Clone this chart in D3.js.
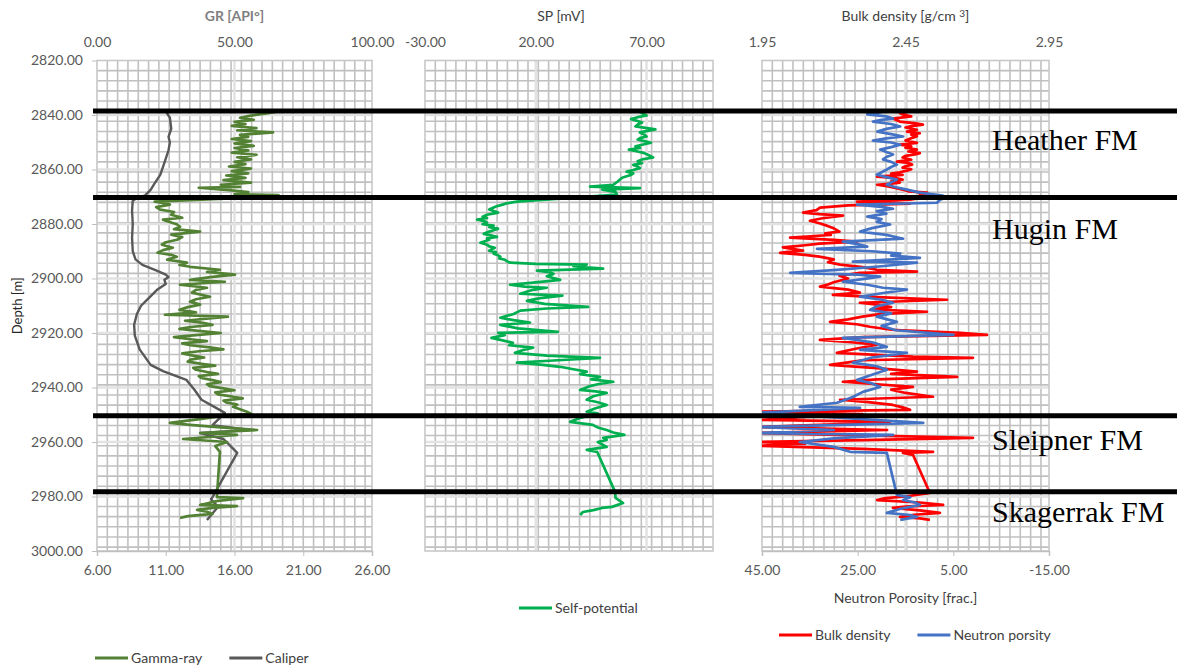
<!DOCTYPE html>
<html>
<head>
<meta charset="utf-8">
<script src="https://cdn.jsdelivr.net/npm/d3@7"></script>
<style>
  body { margin: 0; background: #fff; }
  svg { display: block; }
  text { font-family: Lato, "Open Sans", "DejaVu Sans", sans-serif; }
</style>
</head>
<body>
<svg id="chart" width="1177" height="670"></svg>
<script>
// ---- axis definitions ----
const depthDomain = [2820, 3000];
const depthTicks = [2820, 2840, 2860, 2880, 2900, 2920, 2940, 2960, 2980, 3000];
const grTicks = [0, 50, 100];
const caliperTicks = [6, 11, 16, 21, 26];
const spTicks = [-30, 20, 70];
const rhobTicks = [1.95, 2.45, 2.95];
const nphiTicks = [45, 25, 5, -15];

// formation tops [depth m] and names
const formationTops = [2838.5, 2870.3, 2950.4, 2978.3];
const formationNames = ["Heather FM", "Hugin FM", "Sleipner FM", "Skagerrak FM"];
const formationLabelDepths = [2853.0, 2885.4, 2963.0, 2989.4];

// ---- log curves: [depth m, value] ----
const gammaRay = [
  [2838.7,66],[2839.5,61],[2840.2,56],[2841.0,52],[2841.8,57],[2842.5,50],[2843.3,54],[2844.0,49],
  [2844.8,58],[2845.6,51],[2846.4,64],[2847.3,52],[2848.0,55],[2848.8,49],[2849.6,56],[2850.4,50],
  [2851.3,57],[2852.1,50],[2853.0,55],[2853.8,49],[2854.6,58],[2855.5,51],[2856.3,56],[2857.2,50],
  [2858.0,54],[2858.9,48],[2859.7,56],[2860.6,49],[2861.4,55],[2862.2,47],[2863.1,54],[2863.9,46],
  [2864.8,56],[2865.6,45],[2866.4,52],[2866.7,37],[2867.6,48],[2868.3,55],[2869.0,50],[2869.4,66],
  [2870.3,55],[2871.8,21],[2872.4,25],[2872.9,26.5],[2873.8,21.5],[2874.7,23],[2875.6,28],[2876.6,27],
  [2877.7,31],[2878.4,24],[2879.1,25.8],[2880.1,29],[2881.0,30.2],[2881.9,28],[2882.8,37.5],[2883.9,27],
  [2884.8,31],[2885.8,29.1],[2886.7,25],[2887.6,23.6],[2888.7,27.6],[2889.6,24],[2890.5,22],[2891.3,27],
  [2892.0,29],[2893.1,25.5],[2894.2,32.7],[2895.0,30],[2895.7,33.8],[2896.8,44.7],[2897.6,40],[2898.6,50.2],
  [2899.4,42],[2900.5,33.8],[2901.2,46.5],[2902.3,30.2],[2903.4,40],[2904.2,36],[2905.2,34.5],[2906.7,41.1],
  [2907.6,36],[2908.5,33.8],[2909.6,37.5],[2910.5,33],[2911.5,30],[2912.4,36],[2913.3,24.7],[2914.0,47.6],
  [2915.5,32],[2916.2,38],[2917.0,42],[2917.8,34],[2918.5,30],[2919.2,37],[2920.0,45],[2920.8,36],
  [2921.5,28],[2922.3,34],[2923.0,40],[2923.8,31],[2924.5,34],[2925.3,41],[2926.0,46],[2926.7,37],
  [2927.5,31],[2928.3,35],[2929.0,39],[2929.8,34],[2930.5,33],[2931.3,38],[2932.0,43],[2932.8,35],
  [2933.5,36],[2934.3,40],[2935.0,44],[2935.8,37],[2936.5,38],[2937.3,42],[2938.0,45],[2938.8,40],
  [2939.5,41],[2940.3,46],[2941.0,50],[2941.8,43],[2942.5,44],[2943.3,49],[2944.0,53],[2944.8,46],
  [2945.5,47],[2946.3,51],[2947.1,49.5],[2948.0,52],[2948.9,54.5],[2949.6,56],[2950.5,45],[2951.5,38],
  [2953.0,26.5],[2953.7,33.8],[2954.6,45],[2955.6,58.2],[2956.7,37.5],[2957.4,50.9],[2958.9,31.3],[2960.0,47.3],
  [2961.5,43],[2963.6,44.7],[2980.2,43.6],[2980.6,53.1],[2981.6,44],[2983.1,37.5],[2983.5,50.9],[2984.2,42],
  [2984.9,36.4],[2985.6,40],[2986.4,42],[2987.2,33],[2987.9,30.2]
];

const caliper = [
  [2838.7,11.0],[2841,11.3],[2845,11.4],[2848,11.2],[2850,11.3],[2853,11.2],[2856,11.0],[2859,10.8],
  [2862,10.6],[2865,10.2],[2867.5,9.9],[2869.5,9.5],[2870.5,8.9],[2871.5,8.6],[2875,8.55],[2880,8.6],
  [2885,8.55],[2890,8.6],[2893,8.8],[2895,9.3],[2897,10.3],[2898.6,11.0],[2899.5,11.2],[2900.5,10.9],
  [2902,11.0],[2904,10.4],[2907,9.8],[2910,9.2],[2913,8.9],[2917,8.7],[2921,8.75],[2926,9.1],
  [2931.7,9.9],[2934,10.8],[2937.2,12.5],[2940.9,13.1],[2944.5,13.6],[2947,14.5],[2949.3,15.3],[2953.8,14.4],
  [2955.6,17.1],[2956.7,13.5],[2958.9,15.2],[2964,16.2],[2980.2,14.4],[2981,14.3],[2983.8,14.8],[2988.6,14.0]
];

const selfPotential = [
  [2838.7,67],[2839.4,68],[2840.2,70],[2840.8,66],[2841.5,63],[2842.2,66],[2842.8,68],[2843.5,66],
  [2844.2,65],[2845.3,74],[2846.4,67],[2847.2,69],[2847.9,70],[2848.5,67],[2849.0,66],[2849.6,69],
  [2850.2,72],[2850.9,68],[2851.5,65],[2852.1,67],[2852.7,62],[2853.4,66],[2854.0,69],[2854.8,71],
  [2855.6,73],[2856.3,68],[2857.0,66],[2857.7,68],[2858.3,64],[2858.9,66],[2859.5,67],[2860.2,64],
  [2860.8,61],[2861.4,64],[2862.0,63],[2862.5,61],[2863.0,59],[2863.7,58],[2864.4,57],[2865.0,56],
  [2865.6,55],[2866.3,44.5],[2866.8,67],[2867.4,50],[2868.2,56],[2869.2,56.7],[2871.8,11.5],[2872.4,7],
  [2872.9,5],[2873.6,2],[2874.7,-1],[2875.2,1],[2875.8,3],[2876.6,-2],[2877.3,-4],[2877.8,-2],
  [2878.4,-6.5],[2879.0,-3],[2879.5,-2],[2880.1,-4],[2880.6,1],[2881.2,-1],[2881.7,3],[2882.3,1],
  [2882.8,-1],[2883.6,-3.5],[2884.2,0],[2884.7,2.5],[2885.3,-2],[2885.8,-1],[2886.3,-3],[2886.9,-5],
  [2887.6,-2],[2888.2,-1],[2888.7,1.5],[2889.3,0],[2889.8,-1],[2890.3,2],[2890.9,1],[2891.5,3],
  [2892.0,4],[2892.6,3.5],[2893.1,6],[2893.7,7],[2894.2,8.4],[2894.6,20],[2894.9,43],[2895.5,37],
  [2896.4,50.4],[2897.1,20.6],[2897.7,26],[2898.3,28],[2899.2,25],[2900.5,31],[2901.4,20],[2902.3,8.4],
  [2903.0,15],[2903.4,25],[2904.3,18],[2905.6,13],[2906.3,32],[2907.2,22],[2908.2,16],[2909.3,24],
  [2910.4,43.6],[2911.0,25],[2911.8,13],[2913.0,10],[2914.4,4],[2915.3,10],[2916.2,17.4],[2917.0,4],
  [2918.3,12],[2919.6,30],[2919.9,3],[2920.8,6],[2921.8,0],[2922.7,5],[2923.6,9.7],[2924.5,8],
  [2925.4,18.8],[2926.3,14],[2927.3,10.6],[2928.3,25],[2929.1,49],[2930.0,30],[2930.9,11.5],[2931.6,22],
  [2932.4,31],[2933.3,37],[2934.2,43],[2935.1,40],[2936.1,49],[2937.0,45],[2937.9,55],[2938.8,48],
  [2939.6,44],[2940.9,40],[2941.4,47],[2942.0,52],[2943.2,46],[2944.5,43],[2945.4,48],[2946.4,52],
  [2947.6,47],[2948.9,43],[2949.5,48],[2950.0,46],[2951.2,40],[2952.6,35.5],[2953.7,45.8],[2954.7,48],
  [2955.6,52],[2956.5,55],[2957.4,60],[2958.5,50.4],[2959.2,52],[2960.0,48],[2961.8,52],[2962.9,43],
  [2963.6,47.7],[2978.3,55.8],[2980.5,56],[2982.4,59.4],[2983.8,54.4],[2984.2,49.9],[2985.0,46],[2985.7,41.3],
  [2986.8,40]
];

const bulkDensity = [
  [2838.7,2.466],[2839.3,2.43],[2839.8,2.44],[2840.5,2.47],[2841.3,2.406],[2842.4,2.43],[2843.0,2.48],[2843.5,2.511],
  [2844.1,2.47],[2844.6,2.45],[2845.4,2.49],[2846.1,2.455],[2846.7,2.50],[2847.2,2.47],[2847.8,2.49],[2848.3,2.476],
  [2849.4,2.45],[2850.2,2.49],[2850.9,2.431],[2851.5,2.47],[2852.0,2.45],[2852.7,2.49],[2853.4,2.46],[2854.0,2.50],
  [2854.5,2.483],[2855.0,2.45],[2855.6,2.44],[2856.4,2.47],[2857.1,2.42],[2857.6,2.46],[2858.2,2.473],[2858.8,2.45],
  [2859.3,2.44],[2859.9,2.47],[2860.4,2.455],[2861.0,2.43],[2861.5,2.40],[2862.0,2.44],[2862.6,2.351],[2863.2,2.42],
  [2863.7,2.44],[2864.3,2.40],[2864.8,2.43],[2865.2,2.40],[2865.6,2.351],[2866.2,2.39],[2866.7,2.41],[2867.4,2.441],
  [2868.0,2.46],[2868.5,2.525],[2869.0,2.50],[2869.6,2.546],[2870.3,2.51],[2871.1,2.466],[2871.8,2.281],[2872.5,2.466],
  [2873.2,2.25],[2874.0,2.152],[2874.9,2.14],[2875.8,2.093],[2876.4,2.15],[2876.9,2.232],[2877.9,2.16],[2878.8,2.117],
  [2879.7,2.15],[2880.6,2.176],[2881.6,2.20],[2882.8,2.22],[2883.4,2.17],[2884.0,2.19],[2884.5,2.12],[2885.0,2.048],
  [2885.8,2.20],[2886.5,2.281],[2887.2,2.15],[2887.8,2.10],[2888.2,2.06],[2888.6,2.023],[2889.2,2.06],[2889.8,2.093],
  [2890.2,2.04],[2890.6,2.013],[2891.3,2.10],[2892.0,2.15],[2893.0,2.20],[2894.0,2.18],[2894.9,2.222],[2895.8,2.30],
  [2896.8,2.35],[2897.5,2.49],[2897.9,2.291],[2899.0,2.22],[2900.0,2.25],[2901.4,2.20],[2902.2,2.18],[2903.0,2.152],
  [2904.1,2.25],[2905.2,2.291],[2906.0,2.197],[2906.8,2.35],[2907.8,2.595],[2908.9,2.291],[2909.6,2.35],[2910.5,2.40],
  [2911.3,2.33],[2912.2,2.525],[2913.1,2.36],[2914.0,2.30],[2915.0,2.25],[2915.9,2.187],[2916.8,2.28],[2917.7,2.326],
  [2918.8,2.40],[2919.9,2.64],[2920.7,2.734],[2921.5,2.30],[2922.5,2.152],[2923.4,2.26],[2924.3,2.351],[2925.7,2.28],
  [2927.3,2.211],[2928.0,2.35],[2928.7,2.476],[2929.1,2.685],[2930.0,2.30],[2930.8,2.25],[2931.7,2.187],[2932.9,2.35],
  [2934.2,2.49],[2935.0,2.40],[2936.1,2.63],[2937.0,2.35],[2937.9,2.232],[2938.8,2.35],[2939.8,2.476],[2940.8,2.40],
  [2942.0,2.45],[2943.4,2.546],[2944.5,2.222],[2945.4,2.32],[2946.4,2.406],[2947.3,2.44],[2948.2,2.466],[2948.9,1.94],
  [2949.8,2.30],[2950.8,2.10],[2951.9,1.94],[2952.6,2.396],[2953.5,2.20],[2954.5,1.94],[2955.6,2.386],[2956.7,1.94],
  [2957.6,2.30],[2958.5,2.685],[2959.3,2.30],[2960.0,1.94],[2960.7,2.10],[2961.4,1.94],[2962.5,2.30],[2963.6,2.546],
  [2964.0,2.441],[2964.7,2.476],[2978.7,2.535],[2980.0,2.45],[2980.6,2.38],[2981.3,2.351],[2982.2,2.50],[2983.1,2.581],
  [2983.6,2.46],[2984.2,2.406],[2985.1,2.50],[2986.0,2.57],[2986.7,2.48],[2987.5,2.431],[2988.0,2.50],[2988.6,2.535]
];

const neutronPorosity = [
  [2838.7,19.7],[2839.3,21],[2839.8,23],[2840.5,19],[2841.3,17.6],[2841.8,20],[2842.4,21.8],[2843.3,18],
  [2844.2,16.1],[2845.1,19],[2846.1,20.9],[2847.0,18],[2847.9,15.5],[2848.6,19],[2849.4,21.8],[2850.1,18],
  [2850.9,16.1],[2851.8,18],[2852.7,20.3],[2853.6,19],[2854.5,17.6],[2855.4,19],[2856.3,19.7],[2857.2,18],
  [2858.2,16.8],[2859.1,18],[2860.0,18.9],[2861.0,20],[2861.9,21],[2862.8,19],[2863.7,16.8],[2864.7,18],
  [2865.6,18.9],[2866.5,17],[2867.4,14.7],[2868.5,12.0],[2869.6,7.2],[2870.3,6.3],[2871.1,7.8],[2872.2,8.4],
  [2872.9,25.1],[2873.7,20],[2874.4,17.6],[2875.3,21],[2876.2,19],[2877.3,23.0],[2878.2,20],[2879.2,21],
  [2880.2,18.2],[2881.5,22],[2882.8,24.5],[2884.0,19],[2885.4,15.5],[2886.5,28.1],[2887.4,25],[2888.3,23.0],
  [2889.1,33.5],[2890.0,22],[2890.9,16.1],[2891.6,18],[2892.4,12.0],[2893.8,26.0],[2894.2,12.6],[2895.5,20],
  [2896.8,29.3],[2897.9,39.1],[2898.6,25],[2899.3,20.3],[2900.2,24],[2901.2,28.1],[2902.3,23],[2903.4,19.7],
  [2904.1,14.7],[2905.4,20],[2906.7,24.5],[2907.8,20],[2908.9,17.6],[2910.2,21],[2911.5,22.4],[2912.8,18],
  [2914.0,21],[2915.9,16.8],[2917.4,20],[2919.0,17],[2920.7,5.0],[2921.8,28.1],[2923.4,22],[2925.1,18.9],
  [2926.2,24.5],[2927.3,14.7],[2929.0,22],[2930.9,26.0],[2932.2,21],[2933.5,18.9],[2935.3,22],[2937.2,25.1],
  [2938.5,22],[2939.8,20.3],[2941.6,23.9],[2943.5,26],[2945.6,29.3],[2947.1,37.1],[2947.5,24.5],[2949.3,45.5],
  [2953.0,11.3],[2954.5,46],[2955.6,30],[2956.7,46],[2957.4,17.6],[2958.7,30],[2960.0,37.1],[2961.8,30],
  [2963.6,26.6],[2964.0,18.9],[2979.4,16.8],[2980.3,14],[2981.3,15.5],[2982.2,13],[2983.1,12.0],[2984.5,16],
  [2986.0,18.9],[2986.8,14],[2987.5,12.6],[2988.6,16.1]
];

// ---- layout ----
const svg = d3.select("#chart");
const plotTop = 60.5, plotBottom = 551;
const y = d3.scaleLinear().domain(depthDomain).range([plotTop, plotBottom]);

const panels = {
  gr:  { x0: 97,  x1: 372 },
  sp:  { x0: 425, x1: 713 },
  den: { x0: 762, x1: 1049 }
};

const xGR  = d3.scaleLinear().domain([0, 100]).range([panels.gr.x0, panels.gr.x1]);
const xCal = d3.scaleLinear().domain([6, 26]).range([panels.gr.x0, panels.gr.x1]);
const xSP  = d3.scaleLinear().domain([-30, 100]).range([panels.sp.x0, panels.sp.x1]);
const xRho = d3.scaleLinear().domain([1.95, 2.95]).range([panels.den.x0, panels.den.x1]);
const xPhi = d3.scaleLinear().domain([45, -15]).range([panels.den.x0, panels.den.x1]);

const tickColor = "#595959";
const gridMinor = "#c0c0c0";
const gridMajor = "#e2e2e2";

// grid lines for one track
function drawGrid(xScale, minorStep, majors, p) {
  const g = svg.append("g");
  const [d0, d1] = xScale.domain();
  const xs = d3.range(d0, d1 - 1e-6, minorStep).slice(1);
  const ys = d3.range(depthDomain[0], depthDomain[1] - 1e-6, 3.72).slice(1);
  g.selectAll(".vmin").data(xs).join("line")
    .attr("x1", d => xScale(d)).attr("x2", d => xScale(d))
    .attr("y1", plotTop).attr("y2", plotBottom)
    .attr("stroke", gridMinor).attr("stroke-width", 1.6);
  g.selectAll(".hmin").data(ys).join("line")
    .attr("x1", p.x0).attr("x2", p.x1)
    .attr("y1", d => y(d)).attr("y2", d => y(d))
    .attr("stroke", gridMinor).attr("stroke-width", 1.6);
  g.selectAll(".vmaj").data(majors).join("line")
    .attr("x1", d => xScale(d)).attr("x2", d => xScale(d))
    .attr("y1", plotTop).attr("y2", plotBottom)
    .attr("stroke", gridMajor).attr("stroke-width", 2.5);
  g.selectAll(".hmaj").data(depthTicks.slice(1, -1)).join("line")
    .attr("x1", p.x0).attr("x2", p.x1)
    .attr("y1", d => y(d)).attr("y2", d => y(d))
    .attr("stroke", gridMajor).attr("stroke-width", 2.5);
  g.append("rect").attr("x", p.x0).attr("y", plotTop)
    .attr("width", p.x1 - p.x0).attr("height", plotBottom - plotTop)
    .attr("fill", "none").attr("stroke", "#c8c8c8").attr("stroke-width", 1.6);
}

drawGrid(xGR, 3.75, [50], panels.gr);
drawGrid(xSP, 4.65, [20, 70], panels.sp);
drawGrid(xRho, 0.036, [2.45], panels.den);

// clip paths per track
const defs = svg.append("defs");
Object.entries(panels).forEach(([k, p]) => {
  defs.append("clipPath").attr("id", "clip-" + k)
    .append("rect").attr("x", p.x0).attr("y", plotTop).attr("width", p.x1 - p.x0).attr("height", plotBottom - plotTop);
});

// axes styling helper
function styleAxis(g, fontSize) {
  g.selectAll("text").attr("fill", tickColor).style("font-size", fontSize + "px");
  g.selectAll("line").attr("stroke", "#bfbfbf");
  g.select(".domain").attr("stroke", "#bfbfbf");
}
// two decimals, plain hyphen for negatives
const fmt2 = v => d3.format(".2f")(v).replace("\u2212", "-");

// depth axis
const yAxis = svg.append("g").attr("transform", `translate(${panels.gr.x0},0)`)
  .call(d3.axisLeft(y).tickValues(depthTicks).tickFormat(fmt2).tickSize(5).tickPadding(9));
styleAxis(yAxis, 14);
yAxis.select(".domain").remove();

// top axes (labels only)
function topAxis(scale, ticks) {
  const g = svg.append("g").attr("transform", `translate(0,${plotTop - 14})`)
    .call(d3.axisTop(scale).tickValues(ticks).tickFormat(fmt2).tickSize(0).tickPadding(0));
  g.select(".domain").remove();
  styleAxis(g, 14);
  return g;
}
topAxis(xGR, grTicks);
topAxis(xSP, spTicks);
topAxis(xRho, rhobTicks);

// bottom axes
function bottomAxis(scale, ticks) {
  const g = svg.append("g").attr("transform", `translate(0,${plotBottom})`)
    .call(d3.axisBottom(scale).tickValues(ticks).tickFormat(fmt2).tickSize(5).tickPadding(9));
  styleAxis(g, 14);
  g.select(".domain").attr("stroke-width", 1.5);
  return g;
}
bottomAxis(xCal, caliperTicks);
bottomAxis(xPhi, nphiTicks);

// titles
svg.append("text").attr("x", xGR(50)).attr("y", 21).attr("text-anchor", "middle")
  .attr("fill", "#7f7f7f").style("font-size", "14px").style("font-weight", "bold").text("GR [API°]");
svg.append("text").attr("x", 561).attr("y", 21).attr("text-anchor", "middle")
  .attr("fill", "#404040").style("font-size", "14px").text("SP [mV]");
const bdTitle = svg.append("text").attr("x", xRho(2.45)).attr("y", 21).attr("text-anchor", "middle")
  .attr("fill", "#404040").style("font-size", "14px");
bdTitle.append("tspan").text("Bulk density [g/cm ");
bdTitle.append("tspan").attr("dy", -4).style("font-size", "10px").text("3");
bdTitle.append("tspan").attr("dy", 4).text("]");
svg.append("text").attr("x", xRho(2.45)).attr("y", 603).attr("text-anchor", "middle")
  .attr("fill", "#404040").style("font-size", "14px").text("Neutron Porosity [frac.]");
svg.append("text").attr("transform", `translate(22,${y(2910)}) rotate(-90)`).attr("text-anchor", "middle")
  .attr("fill", "#262626").style("font-size", "13px").text("Depth [m]");

// curves
const line = xs => d3.line().x(d => xs(d[1])).y(d => y(d[0]));
function drawCurve(data, xs, color, width, clip) {
  svg.append("path").datum(data)
    .attr("clip-path", `url(#clip-${clip})`)
    .attr("d", line(xs))
    .attr("fill", "none").attr("stroke", color).attr("stroke-width", width)
    .attr("stroke-linejoin", "round");
}
const colors = { gr: "#548235", cal: "#595959", sp: "#00b050", rho: "#ff0000", phi: "#4472c4" };
drawCurve(caliper, xCal, colors.cal, 2.4, "gr");
drawCurve(gammaRay, xGR, colors.gr, 2.7, "gr");
drawCurve(selfPotential, xSP, colors.sp, 2.7, "sp");
drawCurve(bulkDensity, xRho, colors.rho, 2.7, "den");
drawCurve(neutronPorosity, xPhi, colors.phi, 2.7, "den");

// formation tops
svg.append("g").selectAll("line").data(formationTops).join("line")
  .attr("x1", 93).attr("x2", 1177)
  .attr("y1", d => y(d)).attr("y2", d => y(d))
  .attr("stroke", "#000").attr("stroke-width", 5);
svg.append("g").selectAll("text").data(formationNames).join("text")
  .attr("x", 992).attr("y", (d, i) => y(formationLabelDepths[i]))
  .attr("fill", "#000")
  .style("font-family", "'Liberation Serif', 'Times New Roman', serif")
  .style("font-size", "30px")
  .text(d => d);

// legends
function legend(x, yPos, items) {
  let cx = x;
  items.forEach(it => {
    svg.append("line").attr("x1", cx).attr("x2", cx + 33).attr("y1", yPos).attr("y2", yPos)
      .attr("stroke", it.color).attr("stroke-width", 3);
    const t = svg.append("text").attr("x", cx + 36).attr("y", yPos + 5)
      .attr("fill", "#404040").style("font-size", "14px").text(it.name);
    cx += 36 + t.node().getComputedTextLength() + 27;
  });
}
legend(95, 658, [{ name: "Gamma-ray", color: colors.gr }, { name: "Caliper", color: colors.cal }]);
legend(519, 608, [{ name: "Self-potential", color: colors.sp }]);
legend(779, 635, [{ name: "Bulk density", color: colors.rho }, { name: "Neutron porsity", color: colors.phi }]);
</script>
</body>
</html>
